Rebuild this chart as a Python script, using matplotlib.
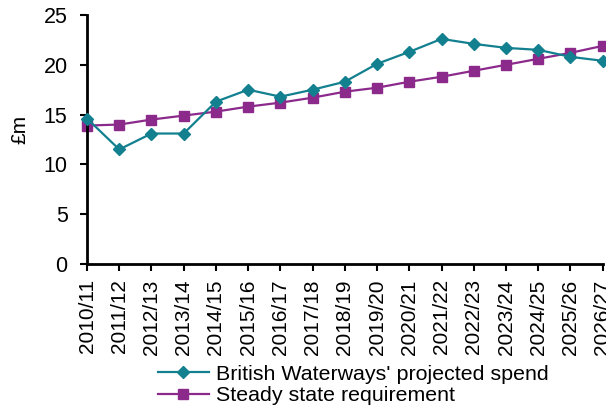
import numpy as np
import matplotlib.pyplot as plt

plt.rcParams['font.family'] = ['Liberation Sans', 'DejaVu Sans']

years = ['2010/11', '2011/12', '2012/13', '2013/14', '2014/15', '2015/16',
         '2016/17', '2017/18', '2018/19', '2019/20', '2020/21', '2021/22',
         '2022/23', '2023/24', '2024/25', '2025/26', '2026/27']
projected = [14.6, 11.5, 13.1, 13.1, 16.3, 17.5, 16.8, 17.5, 18.3, 20.1,
             21.3, 22.6, 22.1, 21.7, 21.5, 20.8, 20.4]
steady = [13.9, 14.0, 14.5, 14.9, 15.3, 15.8, 16.2, 16.7, 17.3, 17.7,
          18.3, 18.8, 19.4, 20.0, 20.6, 21.2, 21.9]

teal = '#13808F'
purple = '#8C2A8C'

fig = plt.figure(figsize=(6.06, 4.11), dpi=100)
ax = fig.add_axes([0.1436, 0.3577, 0.851, 0.6058])

x = np.arange(len(years))
ax.plot(x, projected, color=teal, marker='D', markersize=6, linewidth=1.6,
        label="British Waterways' projected spend", clip_on=False, zorder=3)
ax.plot(x, steady, color=purple, marker='s', markersize=7.5, linewidth=1.6,
        label='Steady state requirement', clip_on=False, zorder=2)

ax.set_xlim(0, len(years) - 1)
ax.set_ylim(0, 25)
ax.set_yticks(range(0, 26, 5))
ax.set_xticks(x)
ax.set_xticklabels(years, rotation=90, fontsize=15)
ax.tick_params(axis='y', labelsize=15.5, length=5, width=1.5, pad=9)
ax.tick_params(axis='x', length=5, width=1.5, pad=6)
ax.set_ylabel('£m', fontsize=15)
ax.yaxis.set_label_coords(-0.111, 0.54)

for side in ['top', 'right']:
    ax.spines[side].set_visible(False)
for side in ['left', 'bottom']:
    ax.spines[side].set_linewidth(2)

ax.legend(loc='upper left', bbox_to_anchor=(0.137, -0.405), frameon=False,
          fontsize=15.4, handlelength=2.4, borderpad=0, labelspacing=0.12,
          handletextpad=0.32, borderaxespad=0)

fig.savefig('out.png', dpi=100)
